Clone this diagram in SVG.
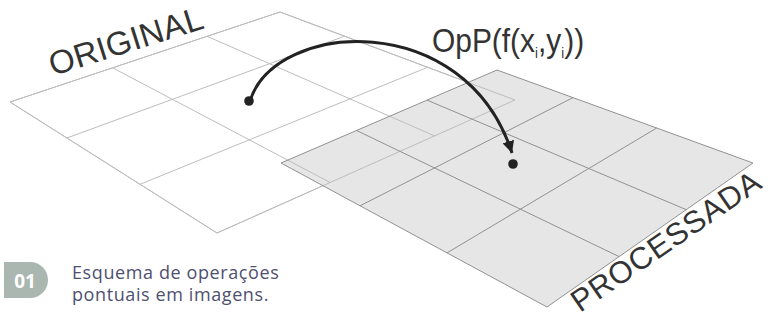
<svg xmlns="http://www.w3.org/2000/svg" width="777" height="324" viewBox="0 0 777 324">
<defs>
<style>
.orig-line{stroke:#bdbdbd;stroke-width:1;fill:none}
.proc-line{stroke:#919191;stroke-width:1;fill:none}
.label{font-family:"Liberation Sans",Arial,sans-serif;fill:#333}
.caption{font-family:"Open Sans","Noto Sans",sans-serif;fill:#4e5070;font-size:18px;letter-spacing:0.6px}
</style>
<marker id="arrow" markerUnits="userSpaceOnUse" markerWidth="14" markerHeight="12" refX="12" refY="6" orient="auto">
<path d="M0,0 L12,6 L0,12 z" fill="#222"/>
</marker>
</defs>
<rect width="777" height="324" fill="#fff"/>

<g id="original">
<polygon points="10,102 280,12 515,100 217,233" fill="#fff" stroke="#bdbdbd" stroke-width="1"/>
</g>

<g id="processada">
<polygon points="281,163 497,70 753,163 547,307" fill="#e6e6e6" stroke="none"/>
</g>

<g id="original-grid">
<line class="orig-line" x1="112.6" y1="67.8" x2="330.2" y2="182.5"/>
<line class="orig-line" x1="207.1" y1="36.3" x2="434.5" y2="135.9"/>
<line class="orig-line" x1="66.9" y1="138" x2="344.6" y2="36.2"/>
<line class="orig-line" x1="140" y1="184.3" x2="427.6" y2="67.3"/>
<polygon class="orig-line" points="10,102 280,12 515,100 217,233"/>
</g>

<g id="processada-grid">
<polygon class="proc-line" points="281,163 497,70 753,163 547,307"/>
<line class="proc-line" x1="356.6" y1="130.5" x2="619.1" y2="256.6"/>
<line class="proc-line" x1="427" y1="100.1" x2="686.3" y2="209.7"/>
<line class="proc-line" x1="360" y1="205.8" x2="573" y2="97.6"/>
<line class="proc-line" x1="447" y1="252.9" x2="656.7" y2="128"/>
</g>

<g id="connectors">
<path d="M250,101 C275,20 465,8 512,153" fill="none" stroke="#222" stroke-width="3" marker-end="url(#arrow)"/>
<circle cx="249" cy="101" r="4.8" fill="#222"/>
<circle cx="513" cy="164" r="4.8" fill="#222"/>
</g>

<g id="labels">
<text class="label" font-size="33" letter-spacing="0.3" transform="translate(53,76) rotate(-17.5)">ORIGINAL</text>
<text class="label" font-size="31" letter-spacing="0.8" transform="translate(580,313) rotate(-34.5)">PROCESSADA</text>
<text class="label" font-size="34" transform="translate(432,52) scale(0.88,1)">OpP(f(x<tspan font-size="15" dy="6">i</tspan><tspan dy="-6">,y</tspan><tspan font-size="15" dy="6">i</tspan><tspan dy="-6">))</tspan></text>
</g>

<g id="caption">
<path d="M4,262 H30 A18,18 0 0 1 30,298 H4 Z" fill="#aab6b0"/>
<text x="25" y="287.5" font-family="Open Sans, sans-serif" font-size="19" font-weight="bold" fill="#fff" text-anchor="middle">01</text>
<text class="caption" x="72" y="279">Esquema de operações</text>
<text class="caption" x="72" y="301">pontuais em imagens.</text>
</g>
</svg>
